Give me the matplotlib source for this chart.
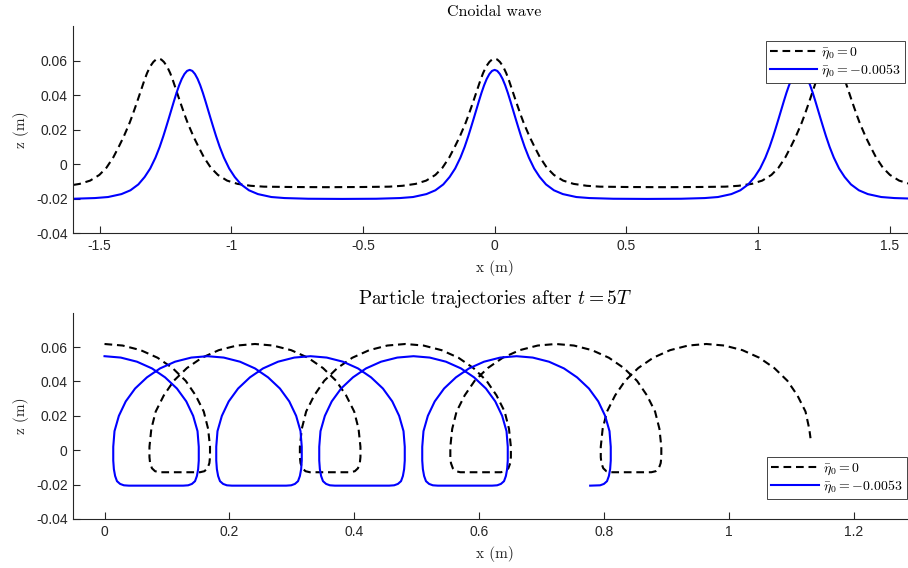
import matplotlib.pyplot as plt

plt.rcParams['font.family'] = 'Liberation Sans'
plt.rcParams['mathtext.fontset'] = 'cm'

# Surface profiles of the cnoidal wave, one crest per line
wave_x_ref = [-1.600, -1.576, -1.536, -1.501, -1.474, -1.448, -1.426, -1.409, -1.398, -1.386, -1.375, -1.364, -1.353, -1.342, -1.331, -1.320, -1.308, -1.296, -1.286,
              -1.276, -1.266, -1.256, -1.244, -1.232, -1.221, -1.210, -1.199, -1.188, -1.177, -1.166, -1.154, -1.143, -1.126, -1.104, -1.078, -1.051, -1.016, -0.976, -0.926, -0.876, -0.776, -0.638,
              -0.500, -0.400, -0.350, -0.300, -0.260, -0.225, -0.198, -0.172, -0.150, -0.133, -0.122, -0.110, -0.099, -0.088, -0.077, -0.066, -0.055, -0.044, -0.032, -0.020, -0.010,
              0.000, 0.010, 0.020, 0.032, 0.044, 0.055, 0.066, 0.077, 0.088, 0.099, 0.110, 0.122, 0.133, 0.150, 0.172, 0.198, 0.225, 0.260, 0.300, 0.350, 0.400, 0.500, 0.638,
              0.776, 0.876, 0.926, 0.976, 1.016, 1.051, 1.078, 1.104, 1.126, 1.143, 1.154, 1.166, 1.177, 1.188, 1.199, 1.210, 1.221, 1.232, 1.244, 1.256, 1.266,
              1.276, 1.286, 1.296, 1.308, 1.320, 1.331, 1.342, 1.353, 1.364, 1.375, 1.386, 1.398, 1.409, 1.426, 1.448, 1.474, 1.501, 1.536, 1.576, 1.600]
wave_z_ref = [-0.0120, -0.0114, -0.0095, -0.0062, -0.0020, 0.0040, 0.0105, 0.0158, 0.0197, 0.0240, 0.0285, 0.0333, 0.0382, 0.0432, 0.0482, 0.0527, 0.0566, 0.0592, 0.0606,
              0.0611, 0.0606, 0.0592, 0.0566, 0.0527, 0.0482, 0.0432, 0.0382, 0.0333, 0.0285, 0.0240, 0.0197, 0.0158, 0.0105, 0.0040, -0.0020, -0.0062, -0.0095, -0.0114, -0.0125, -0.0130, -0.0132, -0.0133,
              -0.0132, -0.0130, -0.0125, -0.0114, -0.0095, -0.0062, -0.0020, 0.0040, 0.0105, 0.0158, 0.0197, 0.0240, 0.0285, 0.0333, 0.0382, 0.0432, 0.0482, 0.0527, 0.0566, 0.0592, 0.0606,
              0.0611, 0.0606, 0.0592, 0.0566, 0.0527, 0.0482, 0.0432, 0.0382, 0.0333, 0.0285, 0.0240, 0.0197, 0.0158, 0.0105, 0.0040, -0.0020, -0.0062, -0.0095, -0.0114, -0.0125, -0.0130, -0.0132, -0.0133,
              -0.0132, -0.0130, -0.0125, -0.0114, -0.0095, -0.0062, -0.0020, 0.0040, 0.0105, 0.0158, 0.0197, 0.0240, 0.0285, 0.0333, 0.0382, 0.0432, 0.0482, 0.0527, 0.0566, 0.0592, 0.0606,
              0.0611, 0.0606, 0.0592, 0.0566, 0.0527, 0.0482, 0.0432, 0.0382, 0.0333, 0.0285, 0.0240, 0.0197, 0.0158, 0.0105, 0.0040, -0.0020, -0.0062, -0.0095, -0.0114, -0.0120]

wave_x_mean = [-1.600, -1.518, -1.468, -1.417, -1.383, -1.353, -1.329, -1.308, -1.288, -1.272, -1.258, -1.248, -1.238, -1.228, -1.218, -1.208, -1.198, -1.188, -1.178, -1.168,
               -1.158, -1.148, -1.138, -1.128, -1.118, -1.108, -1.098, -1.088, -1.078, -1.068, -1.058, -1.044, -1.028, -1.008, -0.987, -0.963, -0.933, -0.899, -0.848, -0.798, -0.708, -0.579,
               -0.450, -0.360, -0.310, -0.259, -0.225, -0.195, -0.171, -0.150, -0.130, -0.114, -0.100, -0.090, -0.080, -0.070, -0.060, -0.050, -0.040, -0.030, -0.020, -0.010,
               0.000, 0.010, 0.020, 0.030, 0.040, 0.050, 0.060, 0.070, 0.080, 0.090, 0.100, 0.114, 0.130, 0.150, 0.171, 0.195, 0.225, 0.259, 0.310, 0.360, 0.450, 0.579,
               0.708, 0.798, 0.848, 0.899, 0.933, 0.963, 0.987, 1.008, 1.028, 1.044, 1.058, 1.068, 1.078, 1.088, 1.098, 1.108, 1.118, 1.128, 1.138, 1.148,
               1.158, 1.168, 1.178, 1.188, 1.198, 1.208, 1.218, 1.228, 1.238, 1.248, 1.258, 1.272, 1.288, 1.308, 1.329, 1.353, 1.383, 1.417, 1.468, 1.518, 1.600]
wave_z_mean = [-0.0200, -0.0196, -0.0190, -0.0173, -0.0151, -0.0117, -0.0074, -0.0025, 0.0038, 0.0100, 0.0163, 0.0212, 0.0262, 0.0313, 0.0364, 0.0413, 0.0457, 0.0494, 0.0522, 0.0540,
               0.0546, 0.0540, 0.0522, 0.0494, 0.0457, 0.0413, 0.0364, 0.0313, 0.0262, 0.0212, 0.0163, 0.0100, 0.0038, -0.0025, -0.0074, -0.0117, -0.0151, -0.0173, -0.0190, -0.0196, -0.0200, -0.0201,
               -0.0200, -0.0196, -0.0190, -0.0173, -0.0151, -0.0117, -0.0074, -0.0025, 0.0038, 0.0100, 0.0163, 0.0212, 0.0262, 0.0313, 0.0364, 0.0413, 0.0457, 0.0494, 0.0522, 0.0540,
               0.0546, 0.0540, 0.0522, 0.0494, 0.0457, 0.0413, 0.0364, 0.0313, 0.0262, 0.0212, 0.0163, 0.0100, 0.0038, -0.0025, -0.0074, -0.0117, -0.0151, -0.0173, -0.0190, -0.0196, -0.0200, -0.0201,
               -0.0200, -0.0196, -0.0190, -0.0173, -0.0151, -0.0117, -0.0074, -0.0025, 0.0038, 0.0100, 0.0163, 0.0212, 0.0262, 0.0313, 0.0364, 0.0413, 0.0457, 0.0494, 0.0522, 0.0540,
               0.0546, 0.0540, 0.0522, 0.0494, 0.0457, 0.0413, 0.0364, 0.0313, 0.0262, 0.0212, 0.0163, 0.0100, 0.0038, -0.0025, -0.0074, -0.0117, -0.0151, -0.0173, -0.0190, -0.0196, -0.0200]

# Particle paths over five periods, one loop per line
traj_x_ref = [0.000, 0.029, 0.058, 0.085, 0.109, 0.130, 0.146, 0.159, 0.166, 0.169, 0.169, 0.168, 0.165, 0.160, 0.153, 0.088, 0.081, 0.076, 0.073, 0.072, 0.072, 0.075, 0.082, 0.095, 0.111, 0.132, 0.156, 0.183, 0.212,
              0.241, 0.270, 0.299, 0.326, 0.350, 0.371, 0.387, 0.400, 0.407, 0.410, 0.410, 0.409, 0.406, 0.401, 0.394, 0.329, 0.322, 0.317, 0.314, 0.313, 0.313, 0.316, 0.323, 0.336, 0.352, 0.373, 0.397, 0.424, 0.453,
              0.482, 0.511, 0.540, 0.567, 0.591, 0.612, 0.628, 0.641, 0.648, 0.651, 0.651, 0.650, 0.647, 0.642, 0.635, 0.570, 0.563, 0.558, 0.555, 0.554, 0.554, 0.557, 0.564, 0.577, 0.593, 0.614, 0.638, 0.665, 0.694,
              0.723, 0.752, 0.781, 0.808, 0.832, 0.853, 0.869, 0.882, 0.889, 0.892, 0.892, 0.891, 0.888, 0.883, 0.876, 0.811, 0.804, 0.799, 0.796, 0.795, 0.795, 0.798, 0.805, 0.818, 0.834, 0.855, 0.879, 0.906, 0.935,
              0.964, 0.993, 1.022, 1.049, 1.073, 1.094, 1.110, 1.123, 1.129, 1.131]
traj_z_ref = [0.0618, 0.0609, 0.0582, 0.0538, 0.0478, 0.0404, 0.0319, 0.0225, 0.0124, 0.0020, -0.0040, -0.0075, -0.0105, -0.0122, -0.0128, -0.0128, -0.0122, -0.0105, -0.0075, -0.0040, 0.0020, 0.0124, 0.0225, 0.0319, 0.0404, 0.0478, 0.0538, 0.0582, 0.0609,
              0.0618, 0.0609, 0.0582, 0.0538, 0.0478, 0.0404, 0.0319, 0.0225, 0.0124, 0.0020, -0.0040, -0.0075, -0.0105, -0.0122, -0.0128, -0.0128, -0.0122, -0.0105, -0.0075, -0.0040, 0.0020, 0.0124, 0.0225, 0.0319, 0.0404, 0.0478, 0.0538, 0.0582, 0.0609,
              0.0618, 0.0609, 0.0582, 0.0538, 0.0478, 0.0404, 0.0319, 0.0225, 0.0124, 0.0020, -0.0040, -0.0075, -0.0105, -0.0122, -0.0128, -0.0128, -0.0122, -0.0105, -0.0075, -0.0040, 0.0020, 0.0124, 0.0225, 0.0319, 0.0404, 0.0478, 0.0538, 0.0582, 0.0609,
              0.0618, 0.0609, 0.0582, 0.0538, 0.0478, 0.0404, 0.0319, 0.0225, 0.0124, 0.0020, -0.0040, -0.0075, -0.0105, -0.0122, -0.0128, -0.0128, -0.0122, -0.0105, -0.0075, -0.0040, 0.0020, 0.0124, 0.0225, 0.0319, 0.0404, 0.0478, 0.0538, 0.0582, 0.0609,
              0.0618, 0.0609, 0.0582, 0.0538, 0.0478, 0.0404, 0.0319, 0.0225, 0.0124, 0.0070]

traj_x_mean = [0.000, 0.026, 0.052, 0.076, 0.097, 0.116, 0.131, 0.142, 0.149, 0.151, 0.151, 0.150, 0.148, 0.145, 0.140, 0.134, 0.126, 0.039, 0.031, 0.025, 0.020, 0.017, 0.015, 0.014, 0.014, 0.016, 0.023, 0.034, 0.049, 0.068, 0.089, 0.113, 0.139,
               0.165, 0.191, 0.217, 0.241, 0.262, 0.281, 0.296, 0.307, 0.314, 0.316, 0.316, 0.315, 0.313, 0.310, 0.305, 0.299, 0.291, 0.204, 0.196, 0.190, 0.185, 0.182, 0.180, 0.179, 0.179, 0.181, 0.188, 0.199, 0.214, 0.233, 0.254, 0.278, 0.304,
               0.330, 0.356, 0.382, 0.406, 0.427, 0.446, 0.461, 0.472, 0.479, 0.481, 0.481, 0.480, 0.478, 0.475, 0.470, 0.464, 0.456, 0.369, 0.361, 0.355, 0.350, 0.347, 0.345, 0.344, 0.344, 0.346, 0.353, 0.364, 0.379, 0.398, 0.419, 0.443, 0.469,
               0.495, 0.521, 0.547, 0.571, 0.592, 0.611, 0.626, 0.637, 0.644, 0.646, 0.646, 0.645, 0.643, 0.640, 0.635, 0.629, 0.621, 0.534, 0.526, 0.520, 0.515, 0.512, 0.510, 0.509, 0.509, 0.511, 0.518, 0.529, 0.544, 0.563, 0.584, 0.608, 0.634,
               0.660, 0.686, 0.712, 0.736, 0.757, 0.776, 0.791, 0.802, 0.809, 0.811, 0.811, 0.810, 0.808, 0.805, 0.800, 0.794, 0.778]
traj_z_mean = [0.0547, 0.0539, 0.0515, 0.0476, 0.0424, 0.0359, 0.0284, 0.0200, 0.0111, 0.0020, -0.0060, -0.0110, -0.0150, -0.0180, -0.0196, -0.0204, -0.0206, -0.0206, -0.0204, -0.0196, -0.0180, -0.0150, -0.0110, -0.0060, 0.0020, 0.0111, 0.0200, 0.0284, 0.0359, 0.0424, 0.0476, 0.0515, 0.0539,
               0.0547, 0.0539, 0.0515, 0.0476, 0.0424, 0.0359, 0.0284, 0.0200, 0.0111, 0.0020, -0.0060, -0.0110, -0.0150, -0.0180, -0.0196, -0.0204, -0.0206, -0.0206, -0.0204, -0.0196, -0.0180, -0.0150, -0.0110, -0.0060, 0.0020, 0.0111, 0.0200, 0.0284, 0.0359, 0.0424, 0.0476, 0.0515, 0.0539,
               0.0547, 0.0539, 0.0515, 0.0476, 0.0424, 0.0359, 0.0284, 0.0200, 0.0111, 0.0020, -0.0060, -0.0110, -0.0150, -0.0180, -0.0196, -0.0204, -0.0206, -0.0206, -0.0204, -0.0196, -0.0180, -0.0150, -0.0110, -0.0060, 0.0020, 0.0111, 0.0200, 0.0284, 0.0359, 0.0424, 0.0476, 0.0515, 0.0539,
               0.0547, 0.0539, 0.0515, 0.0476, 0.0424, 0.0359, 0.0284, 0.0200, 0.0111, 0.0020, -0.0060, -0.0110, -0.0150, -0.0180, -0.0196, -0.0204, -0.0206, -0.0206, -0.0204, -0.0196, -0.0180, -0.0150, -0.0110, -0.0060, 0.0020, 0.0111, 0.0200, 0.0284, 0.0359, 0.0424, 0.0476, 0.0515, 0.0539,
               0.0547, 0.0539, 0.0515, 0.0476, 0.0424, 0.0359, 0.0284, 0.0200, 0.0111, 0.0020, -0.0060, -0.0110, -0.0150, -0.0180, -0.0196, -0.0204, -0.0206]

labels = [r'$\bar{\eta}_0 = 0$', r'$\bar{\eta}_0 = -0.0053$']
z_ticks = [-0.04, -0.02, 0, 0.02, 0.04, 0.06]
z_ticklabels = ['-0.04', '-0.02', '0', '0.02', '0.04', '0.06']
x_ticks_wave = [-1.5, -1, -0.5, 0, 0.5, 1, 1.5]
x_ticklabels_wave = ['-1.5', '-1', '-0.5', '0', '0.5', '1', '1.5']
x_ticks_traj = [0, 0.2, 0.4, 0.6, 0.8, 1, 1.2]
x_ticklabels_traj = ['0', '0.2', '0.4', '0.6', '0.8', '1', '1.2']

W, H = 908, 568
fig = plt.figure(figsize=(W / 100, H / 100), dpi=100)
# right edge of both axes sits slightly past the figure edge, as in the cropped original
ax1 = fig.add_axes([73.3 / W, (H - 233.3) / H, (916 - 73.3) / W, (233.3 - 26) / H])
ax2 = fig.add_axes([73.3 / W, (H - 519) / H, (916 - 73.3) / W, (519 - 312.7) / H])

dash = (3.7, 2.3)
ax1.plot(wave_x_ref, wave_z_ref, color='k', lw=1.5, ls='--', dashes=dash, label=labels[0])
ax1.plot(wave_x_mean, wave_z_mean, color='#0000ff', lw=1.5, label=labels[1])
ax2.plot(traj_x_ref, traj_z_ref, color='k', lw=1.5, ls='--', dashes=dash, label=labels[0])
ax2.plot(traj_x_mean, traj_z_mean, color='#0000ff', lw=1.5, label=labels[1])

ax1.set_xlim(-1.6, 1.6)
ax2.set_xlim(-0.05, 1.3)
for ax, xt, xl in [(ax1, x_ticks_wave, x_ticklabels_wave), (ax2, x_ticks_traj, x_ticklabels_traj)]:
    ax.set_ylim(-0.04, 0.08)
    ax.set_yticks(z_ticks)
    ax.set_yticklabels(z_ticklabels)
    ax.set_xticks(xt)
    ax.set_xticklabels(xl)
    for side in ['top', 'right']:
        ax.spines[side].set_visible(False)
    for side in ['left', 'bottom']:
        ax.spines[side].set_color('#262626')
        ax.spines[side].set_linewidth(0.8)
    ax.tick_params(direction='in', length=5, width=0.8, colors='#262626', labelsize=10, pad=4)
    ax.set_xlabel('x (m)', family='cmr10', fontsize=11, color='#262626', labelpad=5)
    ax.set_ylabel('z (m)', family='cmr10', fontsize=11, color='#262626')
    ax.yaxis.set_label_coords(-0.052, 0.5)

ax1.set_title('Cnoidal wave', family='cmr10', fontsize=11.5, pad=7)
ax2.set_title('Particle trajectories after $t = 5T$', family='cmr10', fontsize=14, pad=6)

leg_kw = dict(fontsize=10, handlelength=3.4, handletextpad=0.3, borderpad=0.3, labelspacing=0.1,
              fancybox=False, framealpha=1, edgecolor='#262626', borderaxespad=0,
              bbox_transform=fig.transFigure)
l1 = ax1.legend(loc='upper right', bbox_to_anchor=(905 / W, 1 - 40.7 / H), **leg_kw)
l2 = ax2.legend(loc='lower right', bbox_to_anchor=(906.7 / W, 1 - 499.3 / H), **leg_kw)
for leg in (l1, l2):
    leg.get_frame().set_linewidth(0.6)

fig.savefig('out.png', dpi=100)
